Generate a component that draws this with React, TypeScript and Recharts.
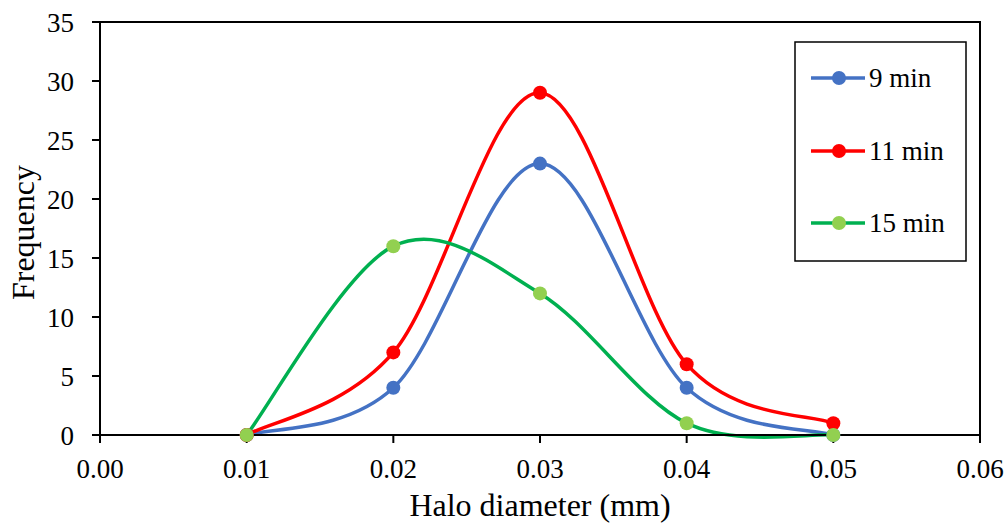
import { LineChart, Line, XAxis, YAxis, Legend, ReferenceArea, Label } from 'recharts';

const diameters = [0.01, 0.02, 0.03, 0.04, 0.05];
const freq9 = [0, 4, 23, 4, 0];
const freq11 = [0, 7, 29, 6, 1];
const freq15 = [0, 16, 12, 1, 0];
const xTicks = [0, 0.01, 0.02, 0.03, 0.04, 0.05, 0.06];
const yTicks = [0, 5, 10, 15, 20, 25, 30, 35];

const series = [
  { key: 'm9', name: '9 min', line: '#4472C4', dot: '#4472C4' },
  { key: 'm11', name: '11 min', line: '#FF0000', dot: '#FF0000' },
  { key: 'm15', name: '15 min', line: '#00B050', dot: '#92D050' },
];

const data = diameters.map((d, i) => ({ d, m9: freq9[i], m11: freq11[i], m15: freq15[i] }));

const FONT = "'Liberation Serif', 'DejaVu Serif', serif";

// Excel-style smoothed line (Catmull-Rom through the points, as cubic beziers)
function excelCurve(context: any) {
  let pts: [number, number][] = [];
  return {
    areaStart() {},
    areaEnd() {},
    lineStart() {
      pts = [];
    },
    point(x: number, y: number) {
      pts.push([+x, +y]);
    },
    lineEnd() {
      const n = pts.length;
      if (!n) return;
      context.moveTo(pts[0][0], pts[0][1]);
      for (let i = 0; i < n - 1; i++) {
        const p0 = pts[Math.max(i - 1, 0)];
        const p1 = pts[i];
        const p2 = pts[i + 1];
        const p3 = pts[Math.min(i + 2, n - 1)];
        context.bezierCurveTo(
          p1[0] + (p2[0] - p0[0]) / 6,
          p1[1] + (p2[1] - p0[1]) / 6,
          p2[0] - (p3[0] - p1[0]) / 6,
          p2[1] - (p3[1] - p1[1]) / 6,
          p2[0],
          p2[1]
        );
      }
    },
  };
}

function LegendBox() {
  const rowY = [37, 110, 182];
  return (
    <svg width={173} height={221} style={{ display: 'block' }}>
      <rect x={1} y={1} width={171} height={219} fill="#fff" stroke="#000" strokeWidth={1.5} />
      {series.map((s, i) => (
        <g key={s.key}>
          <line x1={17} x2={71} y1={rowY[i]} y2={rowY[i]} stroke={s.line} strokeWidth={3.5} />
          <circle cx={45} cy={rowY[i]} r={7} fill={s.dot} />
          <text x={75} y={rowY[i]} dy="0.33em" fontSize={27} style={{ fontFamily: FONT }} fill="#000">
            {s.name}
          </text>
        </g>
      ))}
    </svg>
  );
}

export default function App() {
  return (
    <div
      style={{
        position: 'absolute',
        left: 0,
        top: 0,
        width: 1008,
        height: 523,
        background: '#fff',
        fontFamily: FONT,
      }}
    >
      <LineChart
        width={1008}
        height={523}
        data={data}
        margin={{ top: 22, right: 28, bottom: 0, left: 0 }}
        style={{ fontFamily: FONT }}
      >
        <XAxis
          type="number"
          dataKey="d"
          domain={[0, 0.06]}
          ticks={xTicks}
          interval={0}
          tickFormatter={(v: number) => v.toFixed(2)}
          height={88}
          tickSize={8}
          tickMargin={16}
          axisLine={{ stroke: '#000', strokeWidth: 2 }}
          tickLine={{ stroke: '#000', strokeWidth: 2 }}
          tick={{ fill: '#000', fontSize: 27, style: { fontFamily: FONT } }}
        >
          <Label
            content={({ viewBox }: any) => (
              <text
                x={viewBox.x + viewBox.width / 2}
                y={viewBox.y + 81}
                textAnchor="middle"
                fontSize={32}
                style={{ fontFamily: FONT }}
                fill="#000"
              >
                Halo diameter (mm)
              </text>
            )}
          />
        </XAxis>
        <YAxis
          type="number"
          domain={[0, 35]}
          ticks={yTicks}
          interval={0}
          width={100}
          tickSize={8}
          tickMargin={18}
          axisLine={{ stroke: '#000', strokeWidth: 2 }}
          tickLine={{ stroke: '#000', strokeWidth: 2 }}
          tick={{ fill: '#000', fontSize: 27, style: { fontFamily: FONT } }}
        >
          <Label
            content={({ viewBox }: any) => {
              const cx = viewBox.x + 34;
              const cy = viewBox.y + viewBox.height / 2 + 4;
              return (
                <text
                  x={cx}
                  y={cy}
                  transform={`rotate(-90, ${cx}, ${cy})`}
                  textAnchor="middle"
                  fontSize={32}
                  style={{ fontFamily: FONT }}
                  fill="#000"
                >
                  Frequency
                </text>
              );
            }}
          />
        </YAxis>
        <ReferenceArea x1={0} x2={0.06} y1={0} y2={35} fill="none" stroke="#000" strokeWidth={2} />
        {series.map((s) => (
          <Line
            key={s.key}
            dataKey={s.key}
            name={s.name}
            type={excelCurve as any}
            stroke={s.line}
            strokeWidth={3.5}
            dot={{ r: 7, fill: s.dot, stroke: 'none', strokeWidth: 0 }}
            activeDot={false}
            isAnimationActive={false}
          />
        ))}
        <Legend
          layout="horizontal"
          verticalAlign="middle"
          align="center"
          content={() => <LegendBox />}
          wrapperStyle={{ left: 794, top: 41, width: 173, height: 221 }}
        />
      </LineChart>
    </div>
  );
}
